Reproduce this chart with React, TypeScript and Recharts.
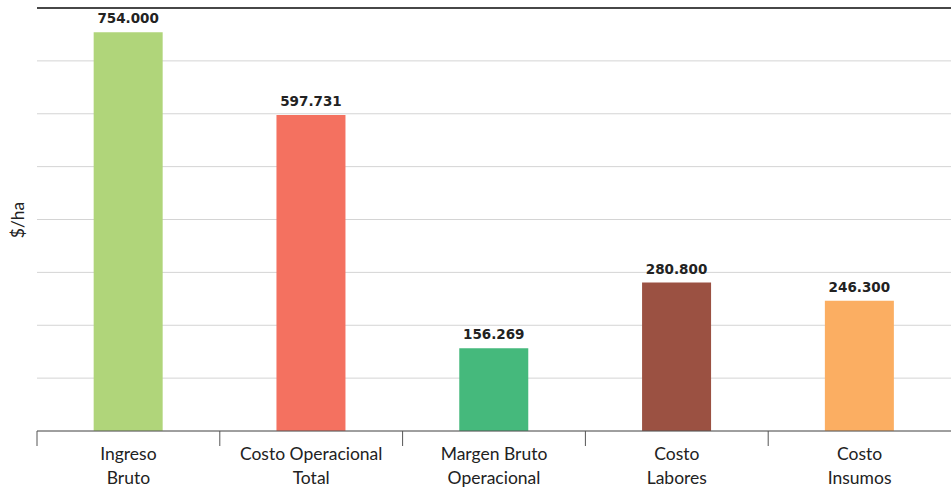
import React from 'react';
import { BarChart, Bar, XAxis, YAxis, CartesianGrid, LabelList, Cell, ReferenceLine } from 'recharts';

const categories = ['Ingreso Bruto', 'Costo Operacional Total', 'Margen Bruto Operacional', 'Costo Labores', 'Costo Insumos'];
const categoryLines = [['Ingreso', 'Bruto'], ['Costo Operacional', 'Total'], ['Margen Bruto', 'Operacional'], ['Costo', 'Labores'], ['Costo', 'Insumos']];
const values = [754000, 597731, 156269, 280800, 246300];
const colors = ['#b0d57a', '#f47160', '#45b97c', '#9b5142', '#fbae62'];
const yTicks = [0, 100000, 200000, 300000, 400000, 500000, 600000, 700000, 800000];

const data = categories.map((c, i) => ({ name: c, value: values[i], idx: i }));

const W = 951;
const H = 488;
const M = { top: 8, right: 0, bottom: 27, left: 37 };
const band = (W - M.left - M.right) / categories.length;
const FONT = 'Lato, "Noto Sans", sans-serif';
const BOLD_FONT = '"DejaVu Sans", Verdana, sans-serif';

const fmt = (v: number) => String(Math.round(v)).replace(/\B(?=(\d{3})+(?!\d))/g, '.');

const CatTick = (props: any) => {
  const { x, y, payload } = props;
  const lines = categoryLines[payload.index] || [payload.value];
  return (
    <g>
      <line x1={x - band / 2} y1={y} x2={x - band / 2} y2={y + 15} stroke="#555" strokeWidth={1} />
      {lines.map((l: string, i: number) => (
        <text key={i} x={x} y={y + 29 + i * 24} textAnchor="middle" fill="#222" fontSize={17.5} fontFamily={FONT}>
          {l}
        </text>
      ))}
    </g>
  );
};

export default function App() {
  return (
    <div style={{ position: 'absolute', left: 0, top: 0, width: W, height: H, background: '#fff' }}>
      <BarChart width={W} height={H} data={data} margin={M} barCategoryGap="31%">
        <CartesianGrid vertical={false} stroke="#d4d4d4" horizontalValues={yTicks} />
        <YAxis
          width={0}
          domain={[0, 800000]}
          ticks={yTicks}
          axisLine={false}
          tickLine={false}
          tick={() => null}
        />
        <XAxis
          dataKey="name"
          interval={0}
          height={30}
          tickLine={false}
          tickSize={0}
          tickMargin={0}
          axisLine={{ stroke: '#555' }}
          tick={<CatTick />}
        />
        <ReferenceLine y={800000} stroke="#111" strokeWidth={1.5} />
        <Bar dataKey="value" isAnimationActive={false}>
          {data.map((d, i) => (
            <Cell key={i} fill={colors[i]} />
          ))}
          <LabelList
            dataKey="value"
            position="top"
            offset={9}
            formatter={(v: any) => fmt(Number(v))}
            fill="#222"
            fontSize={13.5}
            fontWeight="bold"
            fontFamily={BOLD_FONT}
          />
        </Bar>
      </BarChart>
      <div
        style={{
          position: 'absolute',
          left: 17,
          top: 220,
          transform: 'translate(-50%, -50%) rotate(-90deg)',
          fontFamily: FONT,
          fontSize: 17.5,
          color: '#222',
          whiteSpace: 'nowrap',
        }}
      >
        $/ha
      </div>
    </div>
  );
}
